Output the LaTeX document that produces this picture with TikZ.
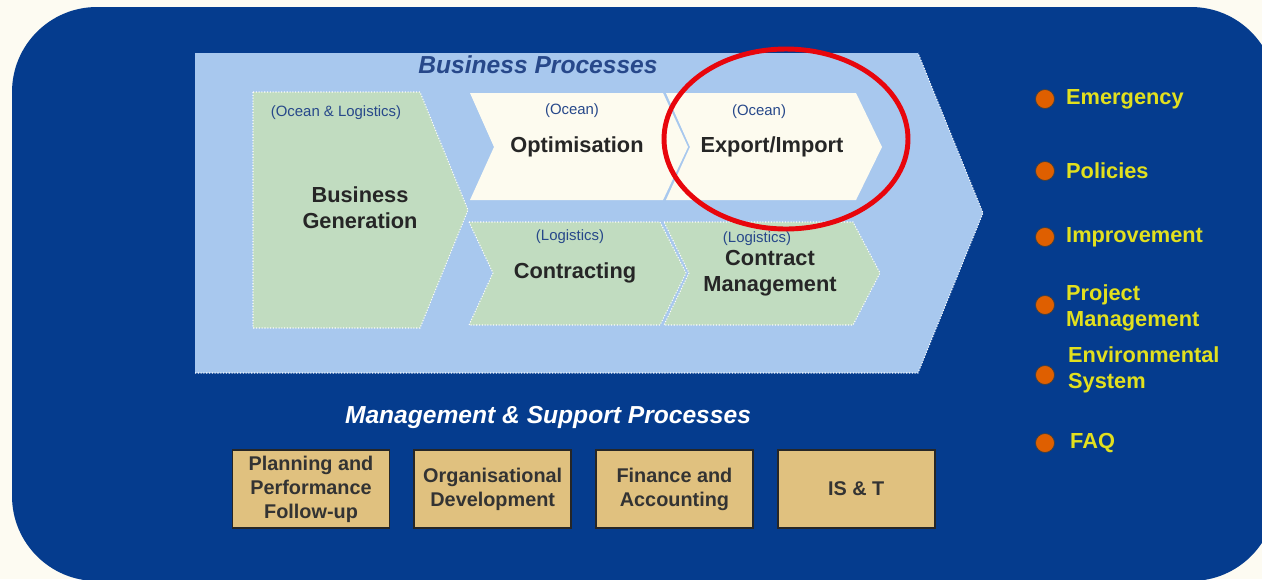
\documentclass[tikz,border=0pt]{standalone}
\usepackage{fontspec}
\setmainfont{Liberation Sans}
\usepackage{xcolor}
\usetikzlibrary{positioning}
\definecolor{procPage}{HTML}{FDFBF2}
\definecolor{procNavy}{HTML}{053C8E}
\definecolor{procSky}{HTML}{A8C8EE}
\definecolor{procGreen}{HTML}{C1DCC0}
\definecolor{procCream}{HTML}{FDFBEF}
\definecolor{procTan}{HTML}{E0C17F}
\definecolor{procYellow}{HTML}{E2E01E}
\definecolor{procOrange}{HTML}{DF5F00}
\definecolor{procRed}{HTML}{E8060C}
\definecolor{procInk}{HTML}{27488A}

\begin{document}
\begin{tikzpicture}[x=0.02cm, y=-0.02cm,
    tag/.style={font=\fontsize{8.5}{10}\selectfont, text=procInk, inner sep=0},
    title/.style={font=\fontsize{12.4}{14.7}\selectfont\bfseries, text=black!85, align=center, inner sep=0},
    heading/.style={font=\fontsize{14}{16}\selectfont\bfseries\itshape, inner sep=0},
    support/.style={draw=black!85, line width=1pt, fill=procTan, minimum width=3.14cm, minimum height=1.56cm, inner sep=0, font=\fontsize{11.3}{13.6}\selectfont\bfseries, text=black!80, align=center},
    bullet/.style={circle, draw=black!75, fill=procOrange, minimum size=0.38cm, inner sep=0},
    menu/.style={font=\fontsize{12.4}{14.7}\selectfont\bfseries, text=procYellow, align=left, inner sep=0},
    edging/.style={draw=white, densely dotted, line width=0.6pt}
]
                        \useasboundingbox (0,0) rectangle (1262,579);
                        \fill[procPage] (0,0) rectangle (1262,579);
                        \fill[procNavy, rounded corners=1.7cm] (12,7) rectangle (1276,581);

                        \fill[procSky] (195,53) -- (918,53) -- (983,213) -- (918,373) -- (195,373) -- cycle;
                        \draw[edging] (195,373) -- (918,373) -- (983,213) -- (918,53);

                        \path[fill=procGreen, edging] (253,92) -- (420,92) -- (468,210) -- (420,328) -- (253,328) -- cycle;
                        \fill[procCream] (470,93) -- (663,93) -- (688,147) -- (663,200) -- (470,200) -- (494,147) -- cycle;
                        \fill[procCream] (666,93) -- (856,93) -- (882,147) -- (856,200) -- (666,200) -- (690,147) -- cycle;
                        \path[fill=procGreen, edging] (469,222) -- (660,222) -- (686,273) -- (660,325) -- (469,325) -- (493,273) -- cycle;
                        \path[fill=procGreen, edging] (664,222) -- (853,222) -- (880,273) -- (853,325) -- (664,325) -- (689,273) -- cycle;

                        \node[heading, text=procInk] (bpTitle) at (538,65) {Business Processes};
                        \node[tag] (genTag) at (336,113) {(Ocean \& Logistics)};
                        \node[title] (gen) at (360,208) {Business\\Generation};
                        \node[tag] (optTag) at (572,111) {(Ocean)};
                        \node[title] (opt) at (577,147) {Optimisation};
                        \node[tag] (expTag) at (759,112) {(Ocean)};
                        \node[title] (exp) at (772,147) {Export/Import};
                        \node[tag] (conTag) at (570,237) {(Logistics)};
                        \node[title] (con) at (575,273) {Contracting};
                        \node[tag] (cmTag) at (757,239) {(Logistics)};
                        \node[title] (cm) at (770,273) {Contract\\Management};

                        \draw[procRed, line width=2.8pt] (786,139) ellipse [x radius=2.44cm, y radius=1.8cm];

                        \node[heading, text=white] (msTitle) at (548,417) {Management \& Support Processes};
                        \node[support] (plan) at (311,489) {Planning and\\Performance\\Follow-up};
                        \node[support, right=0.46cm of plan] (org) {Organisational\\Development};
                        \node[support, right=0.46cm of org] (fin) {Finance and\\Accounting};
                        \node[support, right=0.46cm of fin] (ist) {IS \& T};

                        \node[bullet] (emDot) at (1045,99) {};
                        \node[bullet] (polDot) at (1045,171) {};
                        \node[bullet] (impDot) at (1045,237) {};
                        \node[bullet] (pmDot) at (1045,305) {};
                        \node[bullet] (envDot) at (1045,375) {};
                        \node[bullet] (faqDot) at (1045,443) {};
                        \node[menu, right=0.22cm of emDot] (em) {Emergency};
                        \node[menu, right=0.22cm of polDot] (pol) {Policies};
                        \node[menu, right=0.22cm of impDot] (imp) {Improvement};
                        \node[menu, right=0.22cm of pmDot, yshift=-0.06cm] (pm) {Project\\Management};
                        \node[menu, right=0.26cm of envDot, yshift=0.1cm] (env) {Environmental\\System};
                        \node[menu, right=0.3cm of faqDot] (faq) {FAQ};
                    \end{tikzpicture}
\end{document}
